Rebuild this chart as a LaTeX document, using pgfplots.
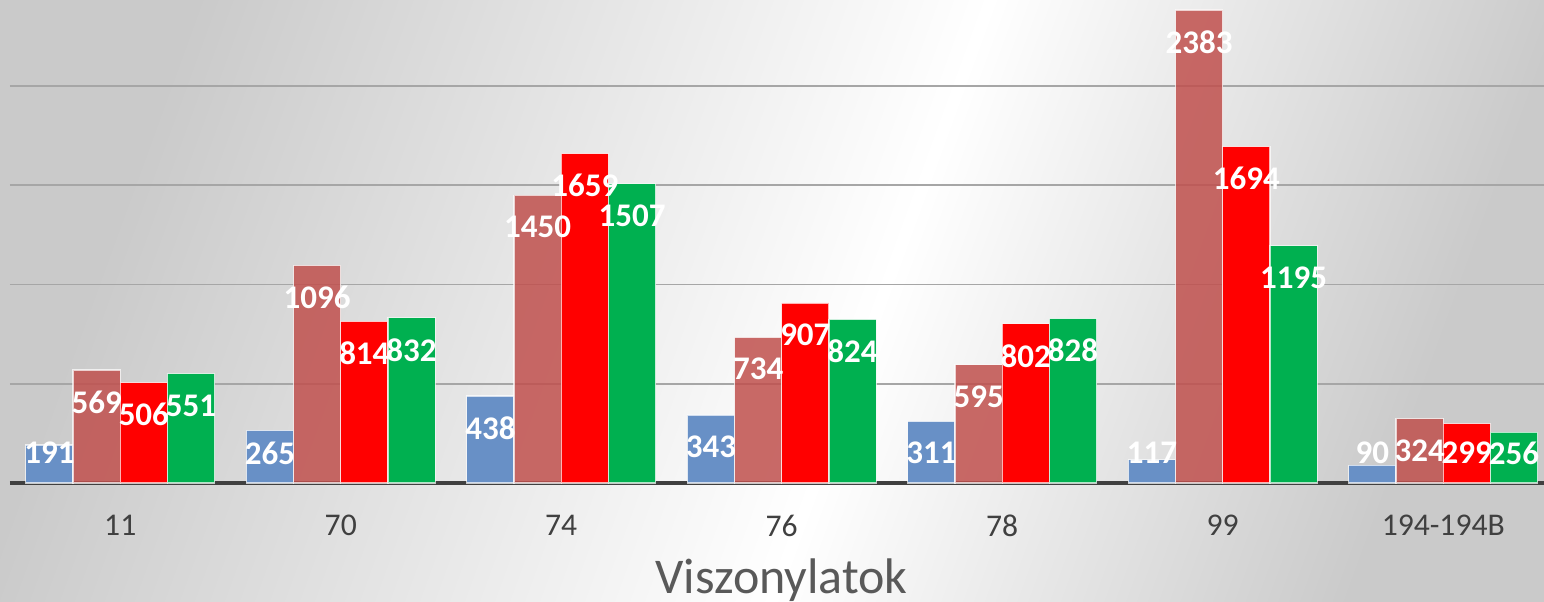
\documentclass[border=0pt]{standalone}
\usepackage{fontspec}
\setmainfont{Carlito}
\usepackage{pgfplots}
\usepackage{pgfplotstable}
\pgfplotsset{compat=1.18}

\definecolor{cblue}{HTML}{6890C6}
\definecolor{cbrown}{HTML}{C0504D}
\definecolor{cred}{HTML}{FF0000}
\definecolor{cgreen}{HTML}{00B050}
\definecolor{bggray}{HTML}{CACACA}
\definecolor{gridgray}{HTML}{A6A6A6}
\definecolor{axisgray}{HTML}{404040}
\definecolor{ticktext}{HTML}{404040}
\definecolor{titletext}{HTML}{595959}

\pgfdeclarehorizontalshading{bgshade}{100bp}{color(0bp)=(bggray); color(25bp)=(bggray); color(54bp)=(white); color(75bp)=(bggray); color(100bp)=(bggray)}

\pgfplotstableread{
x a b c d
0 191 569 506 551
1 265 1096 814 832
2 438 1450 1659 1507
3 343 734 907 824
4 311 595 802 828
5 117 2383 1694 1195
6 90 324 299 256
}\datatable

\pgfplotsset{
  lbl/.style={
    draw=none, fill=none, forget plot,
    visualization depends on={rawy \as \rawy},
    nodes near coords={\pgfmathprintnumber[assume math mode=true,fixed,precision=0,1000 sep={}]{\pgfplotspointmeta}},
    every node near coord/.append style={font=\fontsize{16.5}{20}\selectfont\bfseries, text=white, anchor=center, inner sep=0pt, yshift={max(-16,15-\rawy*0.09926)}},
  },
  bars/.style={draw=white, draw opacity=0.7, line width=0.6pt},
}

\begin{document}
\begin{tikzpicture}
\begin{axis}[
  set layers,
  scale only axis, width=767pt, height=241.5pt,
  at={(0,0)}, anchor=south west,
  xmin=-0.5, xmax=6.457, ymin=0, ymax=2433,
  ybar=0pt, bar width=23.6pt,
  axis x line*=bottom, axis y line*=left,
  y axis line style={draw=none},
  x axis line style={axisgray, line width=1.6pt, on layer=axis foreground},
  ytick={0,500,1000,1500,2000}, yticklabels={},
  ymajorgrids, grid style={gridgray, line width=0.8pt},
  major tick length=0pt,
  xtick={0,1,2,3,4,5,6},
  xticklabels={11,70,74,76,78,99,194-194B},
  xticklabel style={font=\fontsize{15.8}{19}\selectfont, text=ticktext, inner sep=0pt, anchor=north},
  xticklabel shift=16pt,
  xlabel={Viszonylatok},
  xlabel style={at={(axis description cs:0.503,0)}, anchor=base, yshift=-55pt, font=\fontsize{25}{30}\selectfont, text=titletext, inner sep=0pt},
  clip=false,
]
\begin{pgfonlayer}{axis background}
\shade[shading=bgshade, shading angle=-20] ([xshift=-5pt,yshift=-59pt]rel axis cs:0,0) rectangle (rel axis cs:1,1);
\end{pgfonlayer}
\addplot[bars, fill=cblue, bar shift=-35.4pt] table[x=x,y=a]{\datatable};
\addplot[bars, fill=cbrown, fill opacity=0.85, bar shift=-11.8pt] table[x=x,y=b]{\datatable};
\addplot[bars, fill=cred, bar shift=11.8pt] table[x=x,y=c]{\datatable};
\addplot[bars, fill=cgreen, bar shift=35.4pt] table[x=x,y=d]{\datatable};
\addplot[lbl, bar shift=-35.4pt] table[x=x,y=a]{\datatable};
\addplot[lbl, bar shift=-11.8pt] table[x=x,y=b]{\datatable};
\addplot[lbl, bar shift=11.8pt] table[x=x,y=c]{\datatable};
\addplot[lbl, bar shift=35.4pt] table[x=x,y=d]{\datatable};
\end{axis}
\pgfresetboundingbox
\useasboundingbox (-5pt,-59pt) rectangle (767pt,241.5pt);
\end{tikzpicture}
\end{document}
